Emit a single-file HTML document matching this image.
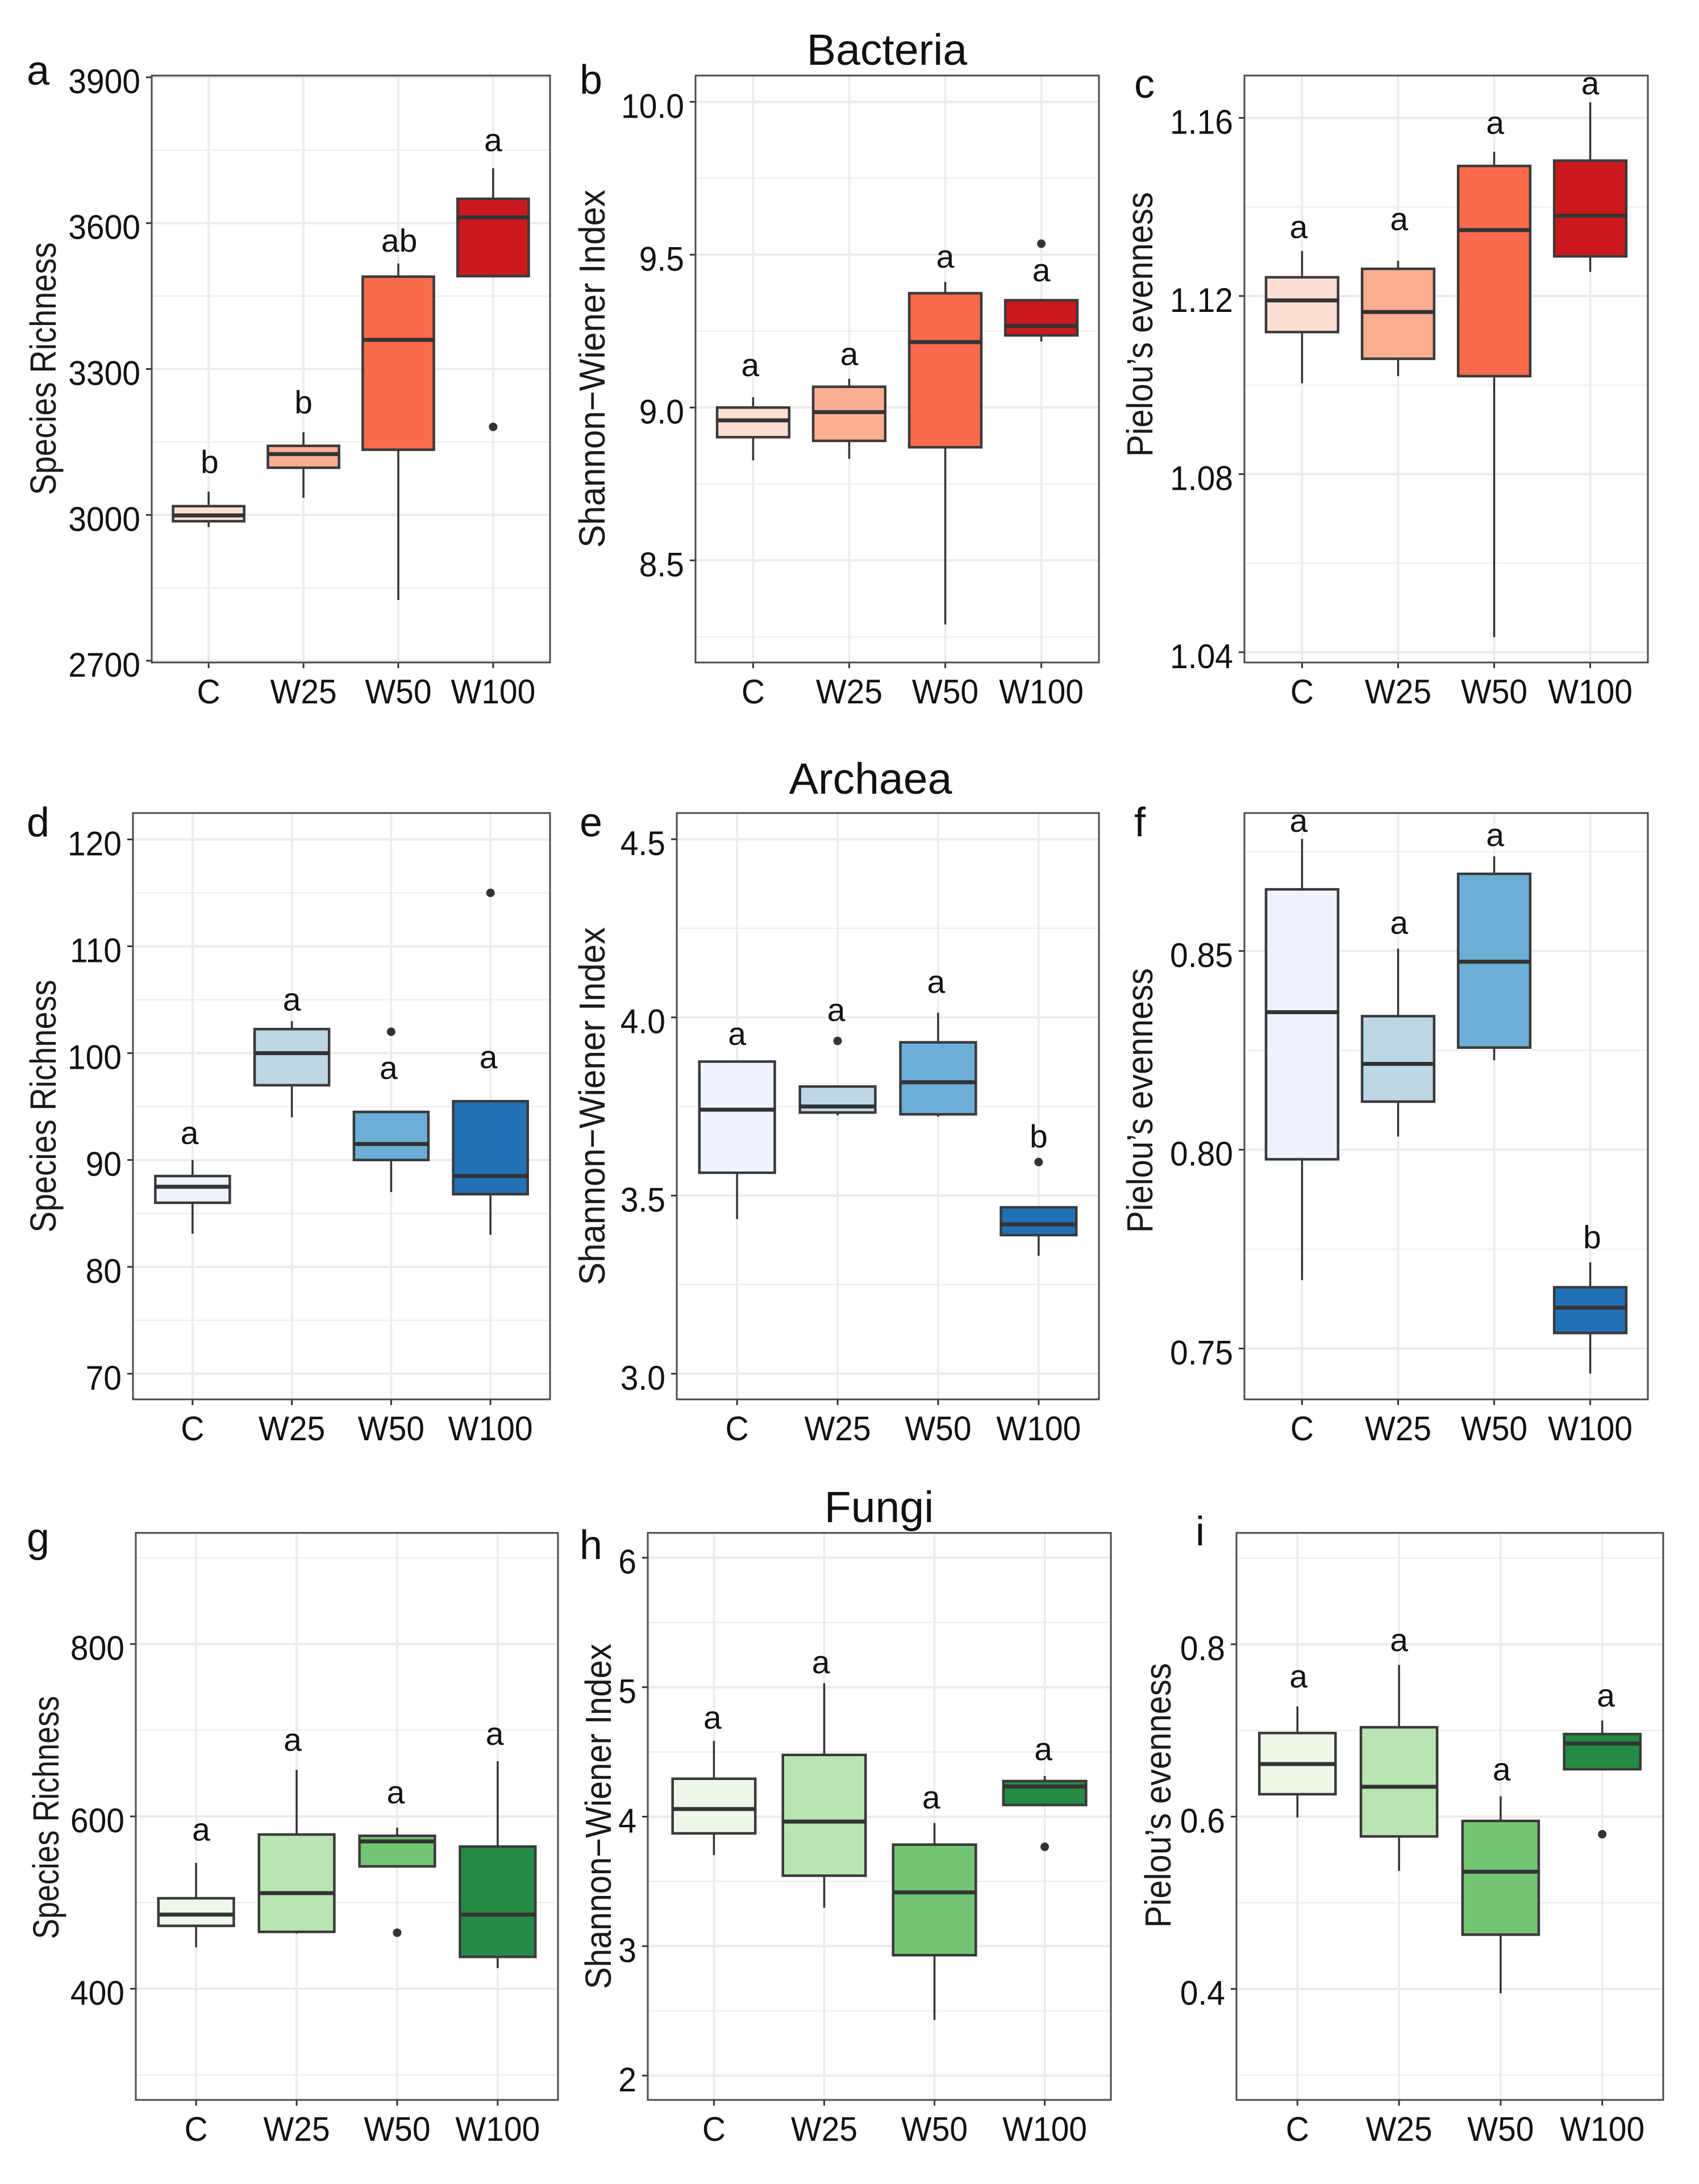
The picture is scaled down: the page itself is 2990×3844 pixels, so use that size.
<!DOCTYPE html>
<html lang="en">
<head>
<meta charset="utf-8">
<title>Diversity boxplots: Bacteria, Archaea, Fungi</title>
<style>
html,body{margin:0;padding:0;background:#fff}
svg{display:block}
text{font-family:"Liberation Sans",sans-serif;fill:#111}
.panel-tag{font-size:72px}
.group-title{font-size:77px;text-anchor:middle}
.y-title{font-size:64px;text-anchor:middle;fill:#1a1a1a}
</style>
</head>
<body>
<svg id="figure" xmlns="http://www.w3.org/2000/svg" width="2990" height="3844" viewBox="0 0 2990 3844">
<rect x="0" y="0" width="2990" height="3844" fill="#ffffff"/>
<text class="group-title" x="1561" y="114">Bacteria</text>
<text class="group-title" x="1532" y="1397">Archaea</text>
<text class="group-title" x="1547" y="2679">Fungi</text>
<text class="panel-tag" x="47" y="149">a</text>
<text class="panel-tag" x="1020" y="165">b</text>
<text class="panel-tag" x="1996" y="172">c</text>
<text class="panel-tag" x="47" y="1472">d</text>
<text class="panel-tag" x="1020" y="1472">e</text>
<text class="panel-tag" x="1996" y="1472">f</text>
<text class="panel-tag" x="47" y="2731">g</text>
<text class="panel-tag" x="1020" y="2744">h</text>
<text class="panel-tag" x="2104" y="2720">i</text>
<g id="plots"></g>
</svg>
<script>
const categories = ["C", "W25", "W50", "W100"];
const redFills = ["#FEE0D2", "#FCAE91", "#FB6A4A", "#CB181D"];
const blueFills = ["#EFF3FF", "#BDD7E7", "#6BAED6", "#2171B5"];
const greenFills = ["#EDF8E9", "#BAE4B3", "#74C476", "#238B45"];

/* a: bacteria species richness */
const aLow = [2975, 3035, 2825, 3491];
const aQ1 = [2987, 3097, 3134, 3491];
const aMedian = [2999, 3125, 3360, 3612];
const aQ3 = [3018, 3142, 3490, 3650];
const aHigh = [3048, 3170, 3517, 3713];
const aOutliers = [null, null, null, 3181];
const aLetters = ["b", "b", "ab", "a"];
const aLetterLevels = [3086, 3209, 3541, 3748];
const aLetterShift = [0.01, 0, 0.01, 0];
const aTicks = [2700, 3000, 3300, 3600, 3900];
const aTickLabels = ["2700", "3000", "3300", "3600", "3900"];

/* b: bacteria shannon */
const bLow = [8.827, 8.832, 8.29, 9.216];
const bQ1 = [8.903, 8.891, 8.87, 9.236];
const bMedian = [8.958, 8.985, 9.214, 9.267];
const bQ3 = [9.0, 9.068, 9.374, 9.351];
const bHigh = [9.034, 9.094, 9.411, 9.351];
const bOutliers = [null, null, null, 9.536];
const bLetters = ["a", "a", "a", "a"];
const bLetterLevels = [9.103, 9.139, 9.458, 9.413];
const bLetterShift = [-0.03, 0, 0, 0];
const bTicks = [8.5, 9.0, 9.5, 10.0];
const bTickLabels = ["8.5", "9.0", "9.5", "10.0"];

/* c: bacteria evenness */
const cLow = [1.1004, 1.102, 1.0434, 1.1254];
const cQ1 = [1.1119, 1.1059, 1.102, 1.1289];
const cMedian = [1.119, 1.1164, 1.1348, 1.138];
const cQ3 = [1.1242, 1.1261, 1.1492, 1.1504];
const cHigh = [1.1301, 1.1279, 1.1524, 1.1635];
const cOutliers = [null, null, null, null];
const cLetters = ["a", "a", "a", "a"];
const cLetterLevels = [1.133, 1.1348, 1.1564, 1.1653];
const cLetterShift = [-0.035, 0.01, 0.01, 0];
const cTicks = [1.04, 1.08, 1.12, 1.16];
const cTickLabels = ["1.04", "1.08", "1.12", "1.16"];

/* d: archaea species richness */
const dLow = [83.1, 94, 87, 83];
const dQ1 = [86, 97, 90, 86.8];
const dMedian = [87.5, 100, 91.5, 88.5];
const dQ3 = [88.5, 102.25, 94.5, 95.5];
const dHigh = [90, 103, 94.5, 95.5];
const dOutliers = [null, null, 102, 115];
const dLetters = ["a", "a", "a", "a"];
const dLetterLevels = [91.5, 104, 97.6, 98.6];
const dLetterShift = [-0.03, 0, -0.026, -0.02];
const dTicks = [70, 80, 90, 100, 110, 120];
const dTickLabels = ["70", "80", "90", "100", "110", "120"];

/* e: archaea shannon */
const eLow = [3.434, 3.725, 3.721, 3.331];
const eQ1 = [3.564, 3.733, 3.728, 3.389];
const eMedian = [3.741, 3.75, 3.818, 3.419];
const eQ3 = [3.876, 3.806, 3.93, 3.467];
const eHigh = [3.876, 3.806, 4.013, 3.467];
const eOutliers = [null, 3.934, null, 3.594];
const eLetters = ["a", "a", "a", "b"];
const eLetterLevels = [3.923, 3.99, 4.069, 3.635];
const eLetterShift = [0, -0.014, -0.02, 0];
const eTicks = [3.0, 3.5, 4.0, 4.5];
const eTickLabels = ["3.0", "3.5", "4.0", "4.5"];

/* f: archaea evenness */
const fLow = [0.7672, 0.8033, 0.8225, 0.7437];
const fQ1 = [0.7976, 0.8121, 0.8257, 0.7539];
const fMedian = [0.8346, 0.8216, 0.8473, 0.7603];
const fQ3 = [0.8655, 0.8336, 0.8694, 0.7654];
const fHigh = [0.8782, 0.8506, 0.8738, 0.7717];
const fOutliers = [null, null, null, null];
const fLetters = ["a", "a", "a", "b"];
const fLetterLevels = [0.88, 0.8543, 0.8764, 0.7752];
const fLetterShift = [-0.035, 0.01, 0.01, 0.02];
const fTicks = [0.75, 0.80, 0.85];
const fTickLabels = ["0.75", "0.80", "0.85"];

/* g: fungi species richness */
const gLow = [448, 464, 542, 424];
const gQ1 = [473, 466, 542, 437];
const gMedian = [486, 511, 571, 486];
const gQ3 = [505, 579, 577.5, 565];
const gHigh = [546, 654, 587, 664];
const gOutliers = [null, null, 465, null];
const gLetters = ["a", "a", "a", "a"];
const gLetterLevels = [572, 676, 615, 683];
const gLetterShift = [0.05, -0.04, -0.015, -0.03];
const gTicks = [400, 600, 800];
const gTickLabels = ["400", "600", "800"];

/* h: fungi shannon */
const hLow = [3.704, 3.296, 2.429, 4.09];
const hQ1 = [3.871, 3.544, 2.93, 4.09];
const hMedian = [4.059, 3.962, 3.415, 4.233];
const hQ3 = [4.293, 4.477, 3.784, 4.275];
const hHigh = [4.585, 5.031, 3.951, 4.314];
const hOutliers = [null, null, null, 3.767];
const hLetters = ["a", "a", "a", "a"];
const hLetterLevels = [4.68, 5.108, 4.063, 4.436];
const hLetterShift = [-0.013, -0.03, -0.03, -0.013];
const hTicks = [2, 3, 4, 5, 6];
const hTickLabels = ["2", "3", "4", "5", "6"];

/* i: fungi evenness */
const iLow = [0.599, 0.537, 0.395, 0.655];
const iQ1 = [0.626, 0.577, 0.463, 0.655];
const iMedian = [0.661, 0.6346, 0.536, 0.6848];
const iQ3 = [0.697, 0.7037, 0.595, 0.6958];
const iHigh = [0.728, 0.776, 0.6236, 0.7115];
const iOutliers = [null, null, null, 0.5796];
const iLetters = ["a", "a", "a", "a"];
const iLetterLevels = [0.75, 0.792, 0.642, 0.728];
const iLetterShift = [0.01, 0, 0.01, 0.036];
const iTicks = [0.4, 0.6, 0.8];
const iTickLabels = ["0.4", "0.6", "0.8"];

const panels = [
  {id:"a", yTitle:"Species Richness", titleX:98, titleY:649, titleLen:445, left:267, right:968, top:133, bottom:1166, min:2696.5, max:3903.5, fills:redFills, low:aLow, q1:aQ1, median:aMedian, q3:aQ3, high:aHigh, outliers:aOutliers, letters:aLetters, levels:aLetterLevels, shift:aLetterShift, ticks:aTicks, labels:aTickLabels},
  {id:"b", yTitle:"Shannon\u2212Wiener Index", titleX:1064, titleY:649, titleLen:630, left:1224, right:1934, top:133, bottom:1166, min:8.166, max:10.086, fills:redFills, low:bLow, q1:bQ1, median:bMedian, q3:bQ3, high:bHigh, outliers:bOutliers, letters:bLetters, levels:bLetterLevels, shift:bLetterShift, ticks:bTicks, labels:bTickLabels},
  {id:"c", yTitle:"Pielou\u2019s evenness", titleX:2028, titleY:571, titleLen:466, left:2190, right:2900, top:133, bottom:1166, min:1.0377, max:1.1695, fills:redFills, low:cLow, q1:cQ1, median:cMedian, q3:cQ3, high:cHigh, outliers:cOutliers, letters:cLetters, levels:cLetterLevels, shift:cLetterShift, ticks:cTicks, labels:cTickLabels},
  {id:"d", yTitle:"Species Richness", titleX:98, titleY:1947, titleLen:445, left:234, right:968, top:1431, bottom:2463, min:67.6, max:122.47, fills:blueFills, low:dLow, q1:dQ1, median:dMedian, q3:dQ3, high:dHigh, outliers:dOutliers, letters:dLetters, levels:dLetterLevels, shift:dLetterShift, ticks:dTicks, labels:dTickLabels},
  {id:"e", yTitle:"Shannon\u2212Wiener Index", titleX:1064, titleY:1947, titleLen:630, left:1191, right:1934, top:1431, bottom:2463, min:2.928, max:4.5735, fills:blueFills, low:eLow, q1:eQ1, median:eMedian, q3:eQ3, high:eHigh, outliers:eOutliers, letters:eLetters, levels:eLetterLevels, shift:eLetterShift, ticks:eTicks, labels:eTickLabels},
  {id:"f", yTitle:"Pielou\u2019s evenness", titleX:2028, titleY:1937, titleLen:466, left:2190, right:2900, top:1431, bottom:2463, min:0.7372, max:0.8847, fills:blueFills, low:fLow, q1:fQ1, median:fMedian, q3:fQ3, high:fHigh, outliers:fOutliers, letters:fLetters, levels:fLetterLevels, shift:fLetterShift, ticks:fTicks, labels:fTickLabels},
  {id:"g", yTitle:"Species Richness", titleX:103, titleY:3199, titleLen:428, left:239, right:982, top:2698, bottom:3696, min:271, max:929, fills:greenFills, low:gLow, q1:gQ1, median:gMedian, q3:gQ3, high:gHigh, outliers:gOutliers, letters:gLetters, levels:gLetterLevels, shift:gLetterShift, ticks:gTicks, labels:gTickLabels},
  {id:"h", yTitle:"Shannon\u2212Wiener Index", titleX:1075, titleY:3197, titleLen:608, left:1140, right:1955, top:2698, bottom:3696, min:1.812, max:6.192, fills:greenFills, low:hLow, q1:hQ1, median:hMedian, q3:hQ3, high:hHigh, outliers:hOutliers, letters:hLetters, levels:hLetterLevels, shift:hLetterShift, ticks:hTicks, labels:hTickLabels},
  {id:"i", yTitle:"Pielou\u2019s evenness", titleX:2060, titleY:3160, titleLen:466, left:2176, right:2927, top:2698, bottom:3696, min:0.2712, max:0.9293, fills:greenFills, low:iLow, q1:iQ1, median:iMedian, q3:iQ3, high:iHigh, outliers:iOutliers, letters:iLetters, levels:iLetterLevels, shift:iLetterShift, ticks:iTicks, labels:iTickLabels}
];

const NS = "http://www.w3.org/2000/svg";
const plots = document.getElementById("plots");

function svgEl(tag, attrs, parent) {
  const node = document.createElementNS(NS, tag);
  for (const key in attrs) node.setAttribute(key, attrs[key]);
  parent.appendChild(node);
  return node;
}
function condense(node, factor) {
  node.setAttribute("textLength", node.getComputedTextLength() * factor);
  node.setAttribute("lengthAdjust", "spacingAndGlyphs");
}

panels.forEach(function (p) {
  const yScale = function (v) { return p.bottom - (v - p.min) / (p.max - p.min) * (p.bottom - p.top); };
  const step = (p.right - p.left) / 4.2;
  const xScale = function (i) { return p.left + (i + 0.6) * step; };

  const group = svgEl("g", {}, plots);
  
  

  const bg = svgEl("rect", {x:p.left, y:p.top, width:p.right - p.left, height:p.bottom - p.top, fill:"#ffffff"}, group);
  
  

  const tickGap = p.ticks[1] - p.ticks[0];
  for (let m = p.ticks[0] - tickGap / 2; m <= p.ticks[p.ticks.length - 1] + tickGap; m += tickGap) {
    if (m <= p.min || m >= p.max) continue;
    const minor = svgEl("line", {x1:p.left, x2:p.right, y1:yScale(m), y2:yScale(m), stroke:"#f0f0f0", "stroke-width":2.5}, group);
    
    
  }
  p.ticks.forEach(function (t, k) {
    const grid = svgEl("line", {x1:p.left, x2:p.right, y1:yScale(t), y2:yScale(t), stroke:"#ebebeb", "stroke-width":4}, group);
    
    
    const tick = svgEl("line", {x1:p.left - 10, x2:p.left, y1:yScale(t), y2:yScale(t), stroke:"#333333", "stroke-width":3}, group);
    
    
    const label = svgEl("text", {x:p.left - 20, y:yScale(t) + 28, "font-size":60, "text-anchor":"end"}, group);
    label.textContent = p.labels[k];
    
    
    condense(label, 0.95);
  });
  categories.forEach(function (c, i) {
    const cx = xScale(i);
    const grid = svgEl("line", {x1:cx, x2:cx, y1:p.top, y2:p.bottom, stroke:"#ebebeb", "stroke-width":3.5}, group);
    
    
  });

  categories.forEach(function (c, i) {
    const cx = xScale(i);
    const half = step * 0.375;

    const whisker = svgEl("path", {d:"M" + cx + " " + yScale(p.high[i]) + "V" + yScale(p.q3[i]) + "M" + cx + " " + yScale(p.q1[i]) + "V" + yScale(p.low[i]), stroke:"#333333", "stroke-width":3.5, fill:"none"}, group);
    
    

    const box = svgEl("rect", {x:cx - half, y:yScale(p.q3[i]), width:half * 2, height:yScale(p.q1[i]) - yScale(p.q3[i]), fill:p.fills[i], stroke:"#3a3a3a", "stroke-width":4.5}, group);
    
    

    const median = svgEl("line", {x1:cx - half, x2:cx + half, y1:yScale(p.median[i]), y2:yScale(p.median[i]), stroke:"#333333", "stroke-width":7}, group);
    
    

    if (p.outliers[i] !== null) {
      const dot = svgEl("circle", {cx:cx, cy:yScale(p.outliers[i]), r:7.5, fill:"#333333"}, group);
      
      
    }

    const letter = svgEl("text", {x:cx + p.shift[i] * step, y:yScale(p.levels[i]), "font-size":57, "text-anchor":"middle"}, group);
    letter.textContent = p.letters[i];
    
    

    const tick = svgEl("line", {x1:cx, x2:cx, y1:p.bottom, y2:p.bottom + 10, stroke:"#333333", "stroke-width":3}, group);
    
    

    const label = svgEl("text", {x:cx, y:p.bottom + 72, "font-size":60, "text-anchor":"middle"}, group);
    label.textContent = c;
    
    
    condense(label, 0.95);
  });

  const border = svgEl("rect", {x:p.left, y:p.top, width:p.right - p.left, height:p.bottom - p.top, fill:"none", stroke:"#4a4a4a", "stroke-width":3}, group);
  
  

  const title = svgEl("text", {class:"y-title", transform:"translate(" + p.titleX + "," + p.titleY + ") rotate(-90)", textLength:p.titleLen, lengthAdjust:"spacingAndGlyphs"}, group);
  title.textContent = p.yTitle;
  
  
});
</script>
</body>
</html>
